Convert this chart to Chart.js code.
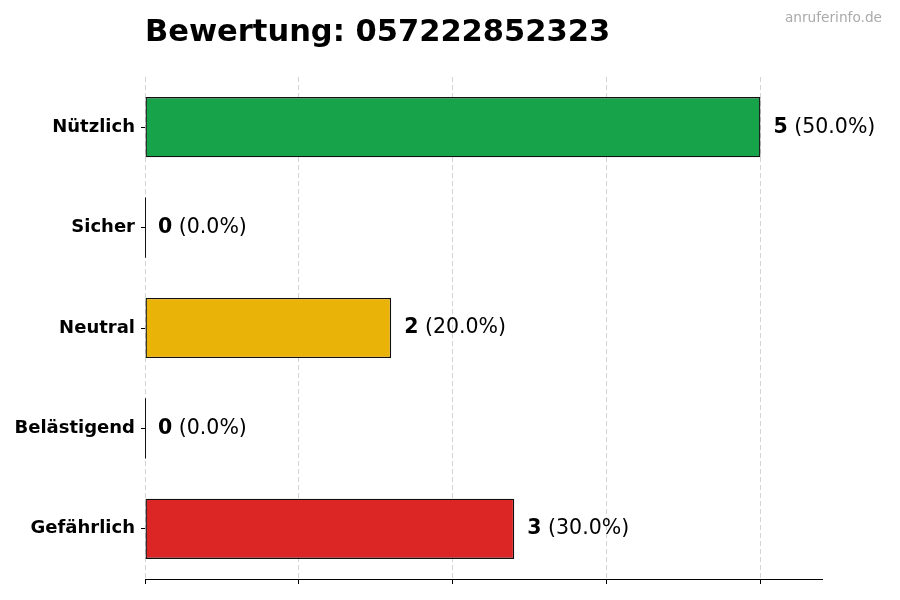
<!DOCTYPE html>
<html>
<head>
<meta charset="utf-8">
<script src="https://cdn.jsdelivr.net/npm/chart.js@4"></script>
<style>
  body { margin: 0; background: #fff; }
  canvas { display: block; }
</style>
</head>
<body>
<canvas id="chart" width="900" height="600"></canvas>
<script>
const categories = ['Nützlich', 'Sicher', 'Neutral', 'Belästigend', 'Gefährlich'];
const counts = [5, 0, 2, 0, 3];
const percents = ['50.0%', '0.0%', '20.0%', '0.0%', '30.0%'];
const barColors = ['#16a34a', '#16a34a', '#eab308', '#dc2626', '#dc2626'];
const xTicks = [0, 1.25, 2.5, 3.75, 5];
const titleText = 'Bewertung: 057222852323';
const watermark = 'anruferinfo.de';

const FONT = "'DejaVu Sans', sans-serif";

// labels next to bars, title, watermark, and the hairline for empty bars
const extras = {
  id: 'extras',
  afterDatasetsDraw(chart) {
    const ctx = chart.ctx;
    const meta = chart.getDatasetMeta(0);
    ctx.save();
    meta.data.forEach((bar, i) => {
      if (counts[i] === 0) {
        ctx.strokeStyle = '#111';
        ctx.lineWidth = 1;
        ctx.beginPath();
        ctx.moveTo(Math.round(bar.x) + 0.5, bar.y - bar.height / 2);
        ctx.lineTo(Math.round(bar.x) + 0.5, bar.y + bar.height / 2);
        ctx.stroke();
      }
      let x = bar.x + 13;
      ctx.textBaseline = 'middle';
      ctx.textAlign = 'left';
      ctx.fillStyle = '#000';
      ctx.font = 'bold 20.5px ' + FONT;
      const num = String(counts[i]);
      ctx.fillText(num, x, bar.y);
      x += ctx.measureText(num).width;
      ctx.font = '20.5px ' + FONT;
      ctx.fillText(' (' + percents[i] + ')', x, bar.y);
    });
    ctx.textBaseline = 'alphabetic';
    ctx.font = 'bold 30.5px ' + FONT;
    ctx.fillStyle = '#000';
    ctx.fillText(titleText, chart.chartArea.left, 41);
    ctx.font = '13.7px ' + FONT;
    ctx.fillStyle = '#aaa';
    ctx.textAlign = 'right';
    ctx.fillText(watermark, 882, 22);
    ctx.restore();
  }
};

new Chart(document.getElementById('chart'), {
  type: 'bar',
  data: {
    labels: categories,
    datasets: [{
      data: counts,
      backgroundColor: barColors,
      borderColor: '#111',
      borderWidth: 1.4,
      borderSkipped: false,
      barPercentage: 0.6,
      categoryPercentage: 1.0
    }]
  },
  options: {
    indexAxis: 'y',
    responsive: false,
    animation: false,
    devicePixelRatio: 1,
    layout: { padding: { top: 77, right: 78, left: 0, bottom: 0 } },
    plugins: {
      legend: { display: false },
      tooltip: { enabled: false },
      title: { display: false }
    },
    scales: {
      x: {
        min: 0,
        max: 5.5,
        afterBuildTicks(scale) { scale.ticks = xTicks.map(v => ({ value: v })); },
        ticks: { display: true, callback: () => '', padding: 0 },
        grid: {
          color: 'rgba(0,0,0,0.17)',
          drawTicks: true,
          tickLength: 5,
          tickColor: '#000',
          tickBorderDash: [],
          tickWidth: 1
        },
        border: { display: true, color: '#000', width: 1, dash: [5, 3] },
        afterFit(scale) { scale.height = 21; }
      },
      y: {
        offset: true,
        ticks: {
          color: '#000',
          padding: 6,
          font: { family: FONT, size: 18, weight: 'bold' }
        },
        grid: {
          display: true,
          offset: false,
          drawOnChartArea: false,
          drawTicks: true,
          tickLength: 4,
          tickColor: '#000'
        },
        border: { display: false },
        afterFit(scale) { scale.width = 145; }
      }
    }
  },
  plugins: [extras]
});
</script>
</body>
</html>
